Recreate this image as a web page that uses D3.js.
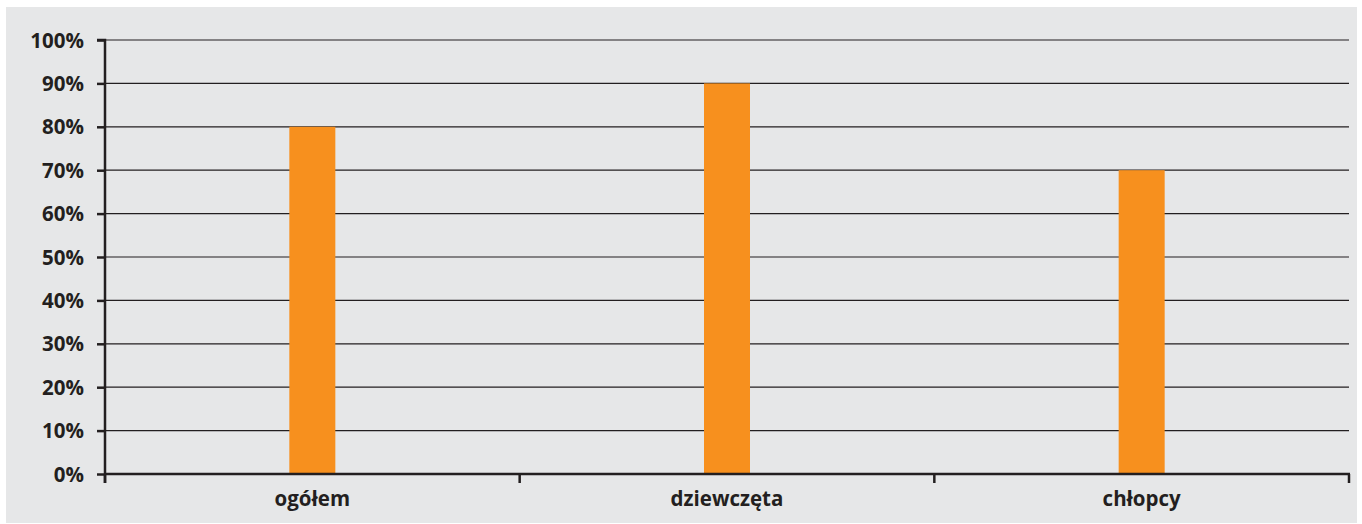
<!DOCTYPE html>
<html><head><meta charset="utf-8">
<script src="https://cdn.jsdelivr.net/npm/d3@7"></script>
<style>body{margin:0;background:#fff}svg{display:block}</style>
</head><body><svg id="c" width="1362" height="524"></svg>
<script>
const categories = ["ogółem", "dziewczęta", "chłopcy"];
const values = [80, 90, 70];
const yTicks = [0,10,20,30,40,50,60,70,80,90,100];

const svg = d3.select("#c");
svg.append("rect").attr("x",6).attr("y",7).attr("width",1351).attr("height",516).attr("fill","#e6e7e8");

const x0 = 105, x1 = 1349, yTop = 40, yBot = 474;
const x = d3.scaleBand().domain(categories).range([x0,x1]);
const y = d3.scaleLinear().domain([0,100]).range([yBot,yTop]);
const font = "'Open Sans', sans-serif";

// gridlines
svg.append("g").selectAll("line").data(yTicks.filter(d=>d>0)).join("line")
  .attr("x1",x0).attr("x2",x1).attr("y1",d=>y(d)).attr("y2",d=>y(d))
  .attr("stroke","#231f20").attr("stroke-width",1.2);

// bars
const bw = 46;
svg.append("g").selectAll("rect").data(values).join("rect")
  .attr("x",(d,i)=>x(categories[i])+x.bandwidth()/2-bw/2)
  .attr("width",bw).attr("y",d=>y(d)).attr("height",d=>yBot-y(d))
  .attr("fill","#f7901e");

// y axis
const ya = svg.append("g").attr("transform",`translate(${x0},0)`)
  .call(d3.axisLeft(y).tickValues(yTicks).tickFormat(d=>d+"%").tickSize(8).tickPadding(13));
ya.select(".domain").attr("stroke","#231f20").attr("stroke-width",2.5).attr("d",`M-8,${yTop}H0V${yBot+9}`);
ya.selectAll(".tick line").attr("stroke","#231f20").attr("stroke-width",2.5);
ya.selectAll("text").attr("font-family",font).attr("font-weight","bold").attr("font-size",20.5).attr("fill","#231f20").attr("dy","0.35em");

// x axis
const xa = svg.append("g").attr("transform",`translate(0,${yBot})`);
xa.append("line").attr("x1",x0).attr("x2",x1+1).attr("y1",0).attr("y2",0).attr("stroke","#231f20").attr("stroke-width",2.5);
const bounds = categories.map(c=>x(c)).concat([x1]);
xa.selectAll("line.t").data(bounds).join("line").attr("class","t")
  .attr("x1",d=>d).attr("x2",d=>d).attr("y1",0).attr("y2",9).attr("stroke","#231f20").attr("stroke-width",2.5);
xa.selectAll("text").data(categories).join("text")
  .attr("x",d=>x(d)+x.bandwidth()/2).attr("y",32).attr("text-anchor","middle")
  .attr("font-family",font).attr("font-weight","bold").attr("font-size",20.5).attr("fill","#231f20").text(d=>d);
</script></body></html>
